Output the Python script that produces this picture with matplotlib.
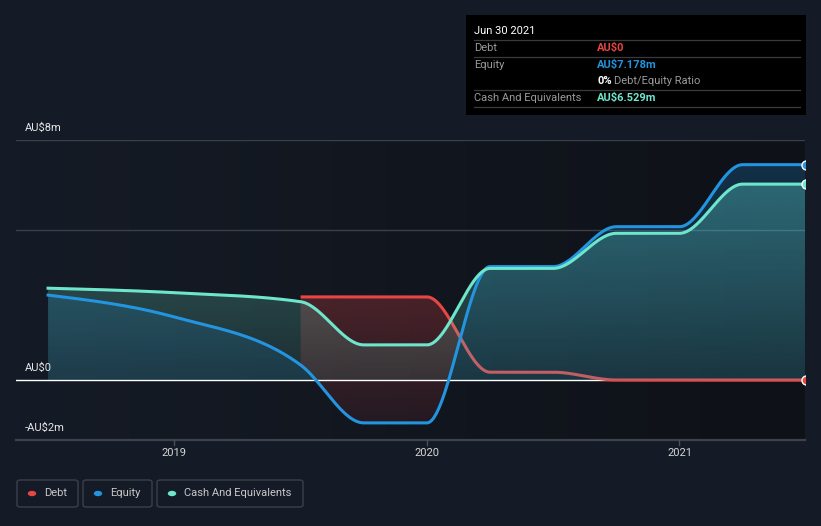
import numpy as np
import matplotlib
matplotlib.use("Agg")
import matplotlib.pyplot as plt
from matplotlib.patches import Polygon, Rectangle, FancyBboxPatch, Circle

# ---------------- data ----------------
dates = [2018.5, 2019.0, 2019.5, 2019.75, 2020.0,
         2020.25, 2020.5, 2020.75, 2021.0, 2021.25, 2021.5]
equity = [2.83, 2.1, 0.5, -1.43, -1.43, 3.78, 3.78, 5.11, 5.11, 7.178, 7.178]
cash = [3.06, 2.91, 2.61, 1.17, 1.17, 3.72, 3.72, 4.89, 4.89, 6.529, 6.529]
debt_dates = [2019.5, 2019.75, 2020.0, 2020.25, 2020.5, 2020.75, 2021.0, 2021.25, 2021.5]
debt = [2.77, 2.77, 2.77, 0.26, 0.26, 0.0, 0.0, 0.0, 0.0]
year_ticks = [2019, 2020, 2021]
y_ticks = [8, 0, -2]
y_tick_labels = ["AU$8m", "AU$0", "-AU$2m"]
grid_levels = [8, 5]

W, H = 821, 526
BG = "#151b26"
C_DEBT = "#e84545"
C_EQ = "#2394df"
C_CASH = "#6ee6cc"

plt.rcParams['font.family'] = ['Roboto', 'DejaVu Sans']


def monotone(xp, yp, n=60):
    xp = np.asarray(xp, float); yp = np.asarray(yp, float)
    h = np.diff(xp); s = np.diff(yp) / h
    m = len(xp)
    t = np.zeros(m)
    for i in range(1, m - 1):
        s0, s1, h0, h1 = s[i - 1], s[i], h[i - 1], h[i]
        p = (s0 * h1 + s1 * h0) / (h0 + h1)
        t[i] = (np.sign(s0) + np.sign(s1)) * min(abs(s0), abs(s1), 0.5 * abs(p))
    t[0] = (3 * s[0] - t[1]) / 2 if m > 2 else s[0]
    t[-1] = (3 * s[-1] - t[-2]) / 2 if m > 2 else s[-1]
    xs, ys = [], []
    for i in range(m - 1):
        u = np.linspace(0, 1, n, endpoint=(i == m - 2))
        h00 = 2 * u**3 - 3 * u**2 + 1
        h10 = u**3 - 2 * u**2 + u
        h01 = -2 * u**3 + 3 * u**2
        h11 = u**3 - u**2
        xs.append(xp[i] + u * h[i])
        ys.append(h00 * yp[i] + h10 * h[i] * t[i] + h01 * yp[i + 1] + h11 * h[i] * t[i + 1])
    return np.concatenate(xs), np.concatenate(ys)


fig = plt.figure(figsize=(W / 100, H / 100), dpi=100, facecolor=BG)
ax = fig.add_axes([16 / W, (H - 440) / H, 789 / W, 300 / H])
ax.set_facecolor(BG)
for sp in ax.spines.values():
    sp.set_visible(False)
ax.set_xticks([]); ax.set_yticks([])

X0, X1 = 2018.373, 2021.497
Y0, Y1 = -2, 8

# background horizontal gradient
g = np.linspace(0, 1, 256)
c_left = np.array([21, 27, 38]) / 255
c_right = np.array([14, 17, 23]) / 255
bgimg = (c_left[None, :] * (1 - g[:, None]) + c_right[None, :] * g[:, None])[None, :, :]
ax.imshow(bgimg, extent=[X0, X1, Y0, Y1], aspect='auto', origin='lower', zorder=0)

ex, ey = monotone(dates, equity)
cx, cy = monotone(dates, cash)
dx, dy = monotone(debt_dates, debt)


def grad_fill(xs, ytop, ybot, color, a_top, a_bot, z):
    verts = np.concatenate([np.column_stack([xs, ytop]), np.column_stack([xs[::-1], ybot[::-1]])])
    poly = Polygon(verts, closed=True, transform=ax.transData, facecolor='none', edgecolor='none')
    ax.add_patch(poly)
    rgb = np.array(matplotlib.colors.to_rgb(color))
    yy = np.linspace(0, 1, 256)
    img = np.zeros((256, 2, 4))
    img[:, :, :3] = rgb
    img[:, :, 3] = (a_bot + (a_top - a_bot) * yy)[:, None]
    im = ax.imshow(img, extent=[X0, X1, Y0, Y1], aspect='auto', origin='lower',
                   zorder=z, interpolation='bilinear')
    im.set_clip_path(poly)


# debt fill between debt and equity where debt > equity
e_on_d = np.interp(dx, ex, ey)
mask = dy > e_on_d
idx = np.where(mask)[0]
grad_fill(dx[idx], dy[idx], e_on_d[idx], C_DEBT, 0.47, 0.07, 1)
# cash fill
grad_fill(cx, np.maximum(cy, 0), np.zeros_like(cy), C_CASH, 0.40, 0.04, 2)
# equity fill
grad_fill(ex, np.maximum(ey, 0), np.zeros_like(ey), C_EQ, 0.25, 0.08, 3)

# grid lines
for gl in grid_levels:
    ax.axhline(gl, color="#3a3f48", lw=1.0, zorder=0.5)
ax.axhline(0, color="#ffffff", lw=1.0, zorder=1.5)
ax.axhline(-2, color="#3d424c", lw=1.6, zorder=5, clip_on=False)

# lines
ax.plot(dx, dy, color=C_DEBT, lw=2.2, zorder=1.8, solid_capstyle='butt')
ax.plot(ex, ey, color=C_EQ, lw=2.2, zorder=6)
ax.plot(cx, cy, color=C_CASH, lw=2.2, zorder=7)

# end markers (clipped at the plot edge like the reference)
for val, col in [(debt[-1], C_DEBT), (equity[-1], C_EQ), (cash[-1], C_CASH)]:
    ax.plot([debt_dates[-1]], [val], marker='o', ms=6.5, mfc=col, mec='white', mew=1.0,
            zorder=9, clip_on=True)

ax.set_xlim(X0, X1)
ax.set_ylim(Y0, Y1)

# x tick marks + labels
for yr in year_ticks:
    ax.plot([yr, yr], [-2, -2.17], color="#4a4f58", lw=1.0, clip_on=False, zorder=5)
    ax.text(yr, -2.27, str(yr), color="#d6d6d6", fontsize=8, ha='center', va='top')

# y labels
for v, lab in zip(y_ticks, y_tick_labels):
    fig.text(25 / W, 1 - (380 - v * 30 - 12) / H, lab, color="#e6e6e6", fontsize=8,
             ha='left', va='center')


def fx(x):
    return x / W


def fy(y):
    return 1 - y / H


# tooltip box
fig.patches.append(Rectangle((fx(466), fy(115)), 340 / W, 100 / H, transform=fig.transFigure,
                             facecolor="#000000", edgecolor='none', zorder=10))
fig.text(fx(474), fy(31), "Jun 30 2021", color="#ffffff", fontsize=8, va='center', zorder=11)
for ly in [40, 57, 90, 107]:
    fig.lines.append(plt.Line2D([fx(474), fx(800)], [fy(ly), fy(ly)], transform=fig.transFigure,
                                color="#3a3a3a", lw=0.9, zorder=11))
rows = [(48, "Debt", "AU$0", C_DEBT), (65, "Equity", "AU$7.178m", C_EQ),
        (98, "Cash And Equivalents", "AU$6.529m", C_CASH)]
for ry, lab, val, col in rows:
    fig.text(fx(474), fy(ry), lab, color="#9a9a9a", fontsize=8, va='center', zorder=11)
    fig.text(fx(597), fy(ry), val, color=col, fontsize=8, va='center', fontweight='bold', zorder=11)
fig.text(fx(597), fy(81), "0%", color="#ffffff", fontsize=8, va='center', fontweight='bold', zorder=11)
fig.text(fx(614), fy(81), "Debt/Equity Ratio", color="#9a9a9a", fontsize=8, va='center', zorder=11)

# legend
legend_items = [("Debt", C_DEBT, 17, 78), ("Equity", C_EQ, 83, 152),
                ("Cash And Equivalents", C_CASH, 157, 303)]
for lab, col, x0, x1 in legend_items:
    fig.patches.append(FancyBboxPatch((fx(x0), fy(507)), (x1 - x0) / W, 27 / H,
                                      boxstyle="round,pad=0,rounding_size=0.004",
                                      transform=fig.transFigure, facecolor='none',
                                      edgecolor="#3b4049", lw=1.0))
    fig.patches.append(Circle((fx(x0 + 15), fy(493.5)), 4.2 / W, transform=fig.transFigure,
                              facecolor=col, edgecolor='none'))
    fig.text(fx(x0 + 27), fy(493.5), lab, color="#c8c8c8", fontsize=8, va='center')

fig.savefig("out.png", dpi=100, facecolor=BG)
